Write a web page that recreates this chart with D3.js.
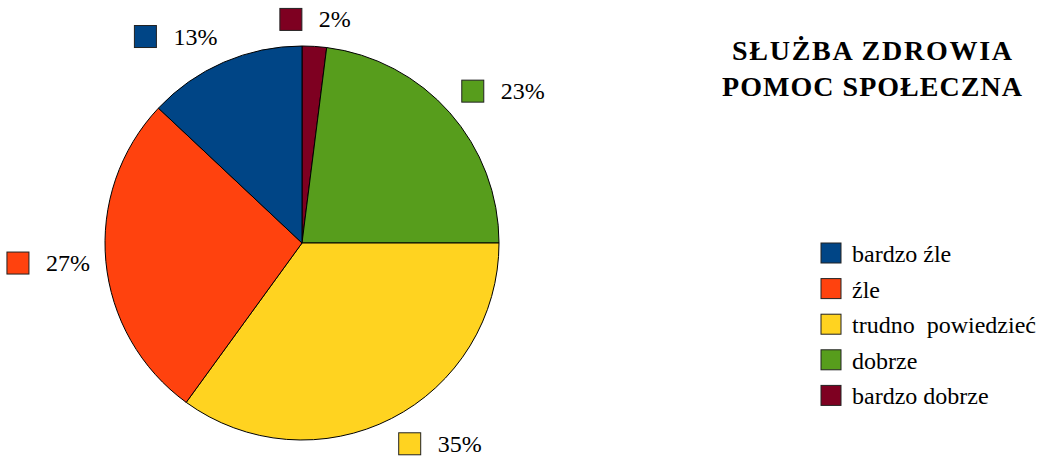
<!DOCTYPE html>
<html>
<head>
<meta charset="utf-8">
<script src="https://cdn.jsdelivr.net/npm/d3@7"></script>
<style>
  body { margin: 0; background: #fff; }
  svg { display: block; }
  svg text { font-family: "Liberation Serif", "Times New Roman", Times, "DejaVu Serif", "Noto Serif", serif; }
</style>
</head>
<body>
<div id="chart"></div>
<script>
const width = 1059;
const height = 460;

// data, clockwise from 12 o'clock
const categories = ['bardzo dobrze', 'dobrze', 'trudno  powiedzieć', 'źle', 'bardzo źle'];
const values = [2, 23, 35, 27, 13];
const colors = ['#7e0021', '#579d1c', '#ffd320', '#ff420e', '#004586'];
const legendOrder = ['bardzo źle', 'źle', 'trudno  powiedzieć', 'dobrze', 'bardzo dobrze'];
const titleLines = ['SŁUŻBA ZDROWIA', 'POMOC SPOŁECZNA'];

const cx = 302;
const cy = 243;
const radius = 197;
const labelRadius = 213;

const color = d3.scaleOrdinal().domain(categories).range(colors);

const svg = d3.select('#chart').append('svg')
  .attr('width', width)
  .attr('height', height)
  .attr('viewBox', [0, 0, width, height]);

const pie = d3.pie().sort(null).value((d)=>d.value);
const arcs = pie(categories.map((c, i)=>({name: c, value: values[i]})));
const arc = d3.arc().innerRadius(0).outerRadius(radius);

const g = svg.append('g').attr('transform', `translate(${cx},${cy})`);

g.selectAll('path')
  .data(arcs)
  .join('path')
  .attr('d', arc)
  .attr('fill', (d)=>color(d.data.name))
  .attr('stroke', '#000')
  .attr('stroke-width', 1);

// labels: square + percentage, anchored on a circle just outside the pie,
// aligned by which of 8 directions the slice points to
const sq = 22;
const gap = 17;
const fontSize = 24;
const lim = Math.sin(Math.PI / 8);
const labels = g.selectAll('g.lbl')
  .data(arcs)
  .join('g')
  .attr('class', 'lbl');

labels.each(function(d) {
  const sel = d3.select(this);
  const a = (d.startAngle + d.endAngle) / 2;
  const s = Math.sin(a);
  const c = Math.cos(a);
  const txt = sel.append('text')
    .attr('font-size', fontSize)
    .attr('fill', '#000')
    .text(`${d.data.value}%`);
  const tw = txt.node().getComputedTextLength();
  const w = sq + gap + tw;
  const h = sq;
  const ax = s > lim ? 0 : (s < -lim ? 1 : 0.5);
  const ay = c > lim ? 1 : (c < -lim ? 0 : 0.5);
  const px = s * labelRadius;
  const py = -c * labelRadius;
  const bx = px - ax * w;
  const by = py - ay * h;
  sel.append('rect')
    .attr('x', bx)
    .attr('y', by)
    .attr('width', sq)
    .attr('height', sq)
    .attr('fill', color(d.data.name))
    .attr('stroke', '#222')
    .attr('stroke-width', 1);
  txt.attr('x', bx + sq + gap).attr('y', by + sq - 3);
});

// title
const title = svg.append('g')
  .attr('font-weight', 'bold')
  .attr('font-size', 28)
  .attr('text-anchor', 'middle');
const titleWidths = [280, 300];
title.selectAll('text')
  .data(titleLines)
  .join('text')
  .attr('x', 872)
  .attr('y', (d, i)=>60 + i * 36)
  .attr('textLength', (d, i)=>titleWidths[i])
  .attr('lengthAdjust', 'spacing')
  .text((d)=>d);

// legend
const legend = svg.append('g').attr('transform', 'translate(821,243)');
const row = legend.selectAll('g')
  .data(legendOrder)
  .join('g')
  .attr('transform', (d, i)=>`translate(0,${i * 35.6})`);
row.append('rect')
  .attr('width', 20)
  .attr('height', 20)
  .attr('fill', (d)=>color(d))
  .attr('stroke', '#222')
  .attr('stroke-width', 1);
row.append('text')
  .attr('x', 31)
  .attr('y', 19)
  .attr('font-size', 24)
  .style('white-space', 'pre')
  .text((d)=>d);
</script>
</body>
</html>
